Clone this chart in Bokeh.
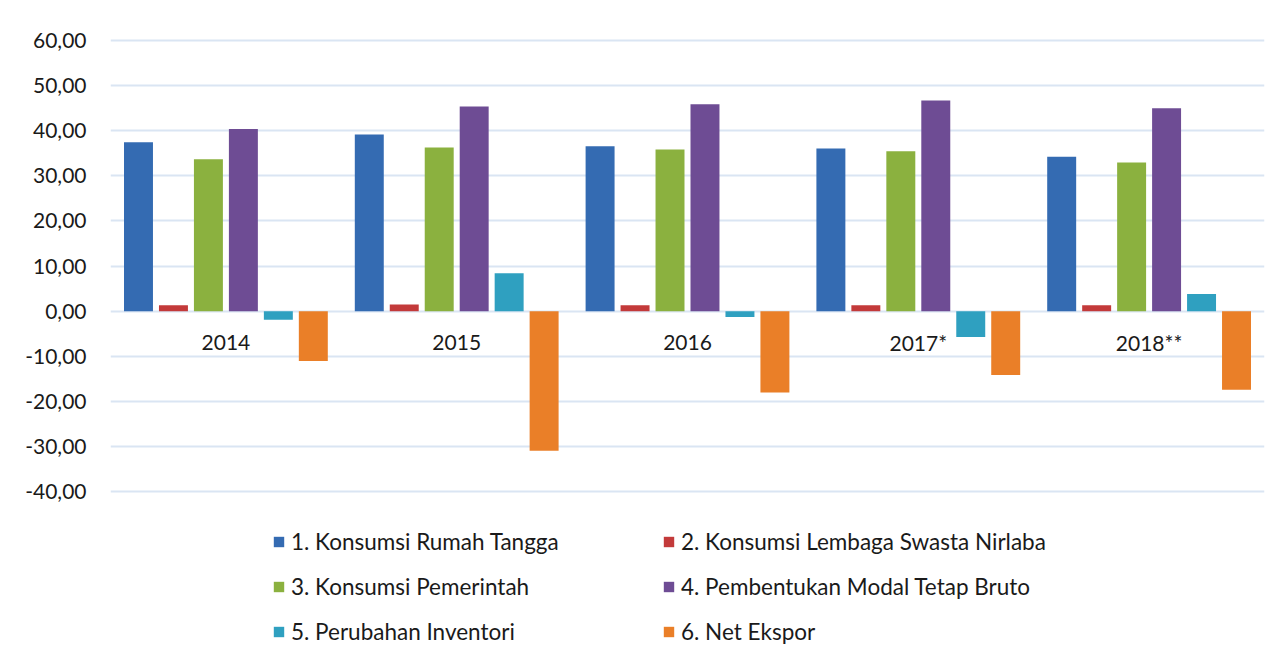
from bokeh.plotting import figure
from bokeh.models import FactorRange, Range1d, Legend, LegendItem, FixedTicker, ColumnDataSource
from bokeh.layouts import column
from bokeh.transform import dodge
from bokeh.core.properties import value
from bokeh.embed import file_html
from bokeh.resources import INLINE

years = ["2014", "2015", "2016", "2017*", "2018**"]
series_names = [
    "1. Konsumsi Rumah Tangga",
    "2. Konsumsi Lembaga Swasta Nirlaba",
    "3. Konsumsi Pemerintah",
    "4. Pembentukan Modal Tetap Bruto",
    "5. Perubahan Inventori",
    "6. Net Ekspor",
]
rumah_tangga = [37.4, 39.1, 36.5, 36.0, 34.2]
lnprt = [1.3, 1.5, 1.3, 1.3, 1.3]
pemerintah = [33.6, 36.2, 35.8, 35.4, 32.9]
pmtb = [40.3, 45.3, 45.8, 46.6, 44.9]
inventori = [-1.9, 8.4, -1.3, -5.7, 3.8]
net_ekspor = [-11.0, -30.9, -18.0, -14.1, -17.4]
series_values = [rumah_tangga, lnprt, pemerintah, pmtb, inventori, net_ekspor]
colors = ["#346BB2", "#C33A3A", "#8BB13F", "#6E4C94", "#2FA0C0", "#EA7F28"]

ytick_values = [-40, -30, -20, -10, 0, 10, 20, 30, 40, 50, 60]
ytick_labels = ["-40,00", "-30,00", "-20,00", "-10,00", "0,00", "10,00",
                "20,00", "30,00", "40,00", "50,00", "60,00"]

FONT = "Lato"
TEXT_COLOR = "#1a1a1a"

p = figure(
    x_range=FactorRange(factors=years, range_padding=0),
    y_range=Range1d(-41, 61),
    width=1288, height=512,
    min_border_left=110, min_border_right=24,
    min_border_top=35, min_border_bottom=16,
    output_backend="svg", toolbar_location=None,
)
p.outline_line_color = None
p.background_fill_color = "white"
p.border_fill_color = "white"

p.xaxis.visible = False
p.xgrid.grid_line_color = None
p.ygrid.grid_line_color = "#DAE5F3"
p.ygrid.grid_line_width = 2

ya = p.yaxis[0]
ya.ticker = FixedTicker(ticks=ytick_values)
ya.major_label_overrides = {v: l for v, l in zip(ytick_values, ytick_labels)}
ya.axis_line_color = None
ya.major_tick_line_color = None
ya.minor_tick_line_color = None
ya.major_label_standoff = 18
ya.major_label_text_font = FONT
ya.major_label_text_font_size = "21px"
ya.major_label_text_color = TEXT_COLOR

step = 0.1515
bar_w = 0.1255
for i, (name, vals, col) in enumerate(zip(series_names, series_values, colors)):
    off = (i - 2.5) * step
    src = ColumnDataSource(dict(x=years, top=vals))
    p.vbar(x=dodge("x", off, range=p.x_range), top="top", bottom=0, width=bar_w,
           source=src, fill_color=col, line_color=None)

# year labels along the zero line
lab_src = ColumnDataSource(dict(x=years, y=[0] * len(years), t=years))
p.text(x="x", y="y", text="t", source=lab_src, text_align="center",
       text_baseline="middle", y_offset=31, text_font=value(FONT),
       text_font_size="21px", text_color=TEXT_COLOR)

# legend area (separate panel below the plot)
lf = figure(width=1288, height=151, x_range=Range1d(0, 1), y_range=Range1d(0, 1),
            min_border_left=0, min_border_right=0, min_border_top=0, min_border_bottom=0,
            output_backend="svg", toolbar_location=None)
lf.axis.visible = False
lf.grid.visible = False
lf.outline_line_color = None
lf.border_fill_color = "white"
lf.background_fill_color = "white"

swatches = []
for col in colors:
    # swatch renderer kept outside the visible range; only its legend glyph shows
    r = lf.vbar(x=[-5], top=[-5], bottom=[-6], width=0.1, fill_color=col, line_color=None)
    swatches.append(r)

def make_legend(idx, x):
    items = [LegendItem(label=series_names[i], renderers=[swatches[i]]) for i in idx]
    lg = Legend(items=items, location=(x, 18), orientation="vertical",
                padding=0, margin=0, spacing=18, label_height=26,
                glyph_height=13, glyph_width=13, label_standoff=6,
                label_text_font=FONT, label_text_font_size="22.5px",
                label_text_color=TEXT_COLOR, border_line_color=None,
                background_fill_alpha=0)
    lf.add_layout(lg, "center")

make_legend([0, 2, 4], 162)
make_legend([1, 3, 5], 552)

layout = column(p, lf, spacing=0)
open("out.html", "w").write(file_html(layout, INLINE))
